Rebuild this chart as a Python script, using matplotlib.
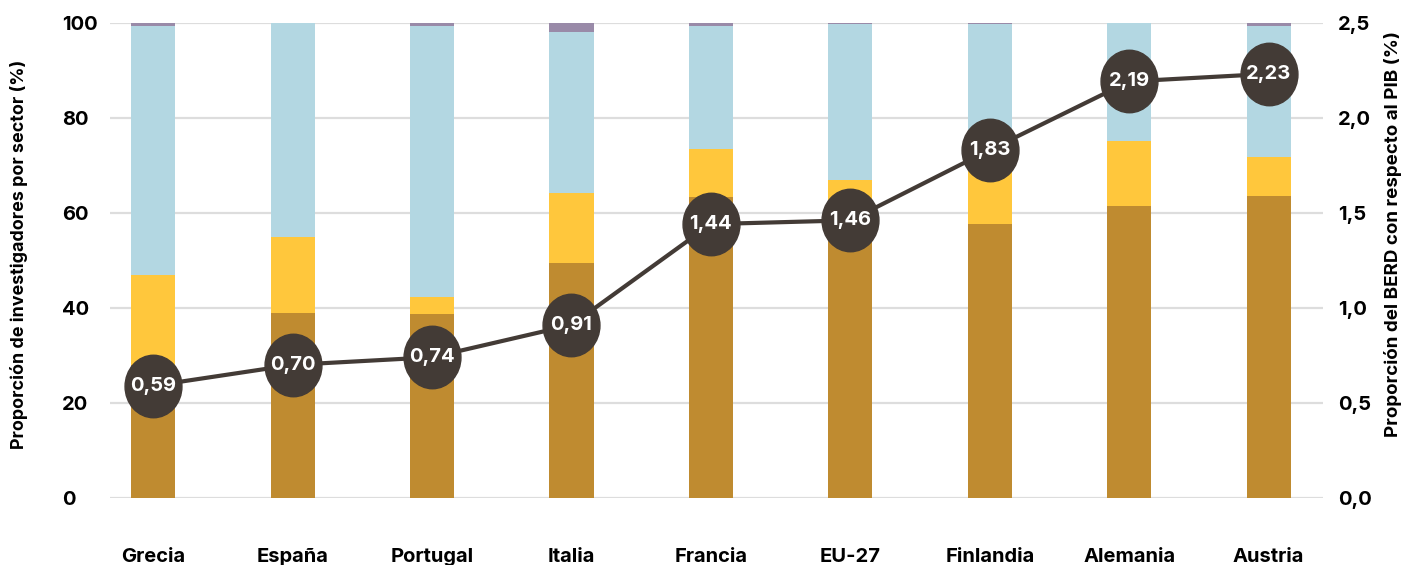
import numpy as np
import matplotlib
matplotlib.use("Agg")
from matplotlib import pyplot as plt
from matplotlib.path import Path
from matplotlib.transforms import Affine2D
from matplotlib.ticker import FuncFormatter

paises = ['Grecia', 'España', 'Portugal', 'Italia', 'Francia', 'EU-27', 'Finlandia', 'Alemania', 'Austria']

# proporción de investigadores por sector (%)
empresas = [28.0, 38.9, 38.7, 49.4, 63.3, 58.0, 57.6, 61.4, 63.5]
gobierno = [18.9, 16.0, 3.6, 14.7, 10.1, 8.9, 12.4, 13.7, 8.2]
universidad = [52.4, 45.1, 57.0, 33.9, 25.9, 32.7, 29.6, 24.9, 27.6]
privado_sfl = [0.7, 0.0, 0.7, 2.0, 0.7, 0.4, 0.4, 0.0, 0.7]

# BERD respecto al PIB (%)
berd = [0.59, 0.70, 0.74, 0.91, 1.44, 1.46, 1.83, 2.19, 2.23]

plt.rcParams['font.family'] = ['Inter', 'DejaVu Sans']
plt.rcParams['font.weight'] = 'bold'

c_emp = '#BF8B30'
c_gob = '#FFC73C'
c_uni = '#B3D7E2'
c_psfl = '#998AA8'
c_line = '#433B36'
c_grid = '#DDDDDD'

fig = plt.figure(figsize=(14.04, 5.65), dpi=100)
ax = fig.add_axes([110/1404, 1-498/565, 1213/1404, 475.5/565])

x = np.arange(len(paises))
w = 0.316
b1 = np.array(empresas)
b2 = b1 + np.array(gobierno)
b3 = b2 + np.array(universidad)
ax.bar(x, empresas, w, color=c_emp, zorder=2)
ax.bar(x, gobierno, w, bottom=b1, color=c_gob, zorder=2)
ax.bar(x, universidad, w, bottom=b2, color=c_uni, zorder=2)
ax.bar(x, privado_sfl, w, bottom=b3, color=c_psfl, zorder=2)

ax.set_xlim(-0.31, 8.39)
ax.set_ylim(0, 100)
ax.set_yticks([0, 20, 40, 60, 80, 100])
ax.yaxis.grid(True, color=c_grid, linewidth=1.6)
ax.set_axisbelow(True)
for s in ax.spines.values():
    s.set_visible(False)
ax.set_xticks(x)
ax.set_xticklabels(paises, fontsize=14.5, fontweight='bold')
ax.tick_params(axis='x', length=0, pad=36)
ax.tick_params(axis='y', length=0, pad=34.5, labelsize=14.5)
for t in ax.get_yticklabels():
    t.set_horizontalalignment('left')
ax.set_ylabel('Proporción de investigadores por sector (%)', fontsize=12.9, fontweight='bold')
ax.yaxis.set_label_coords(-0.068, 0.513)

ax2 = ax.twinx()
ax2.set_ylim(0, 2.5)
ax2.set_yticks([0, 0.5, 1.0, 1.5, 2.0, 2.5])
ax2.yaxis.set_major_formatter(FuncFormatter(lambda v, p: f'{v:.1f}'.replace('.', ',')))
for s in ax2.spines.values():
    s.set_visible(False)
ax2.tick_params(axis='y', length=0, pad=11, labelsize=14.5)
ax2.set_ylabel('Proporción del BERD con respecto al PIB (%)', fontsize=13.5, fontweight='bold')
ax2.yaxis.set_label_coords(1.0505, 0.555)

elipse = Path.unit_circle().transformed(Affine2D().scale(0.91, 1.0))
ax2.plot(x, berd, color=c_line, linewidth=3, zorder=3)
ax2.plot(x, berd, linestyle='none', marker=elipse, markersize=45,
         markerfacecolor=c_line, markeredgecolor=c_line, zorder=4)
for xi, v in zip(x, berd):
    ax2.text(xi, v, f'{v:.2f}'.replace('.', ','), ha='center', va='center',
             color='white', fontsize=14.5, fontweight='bold', zorder=5)

fig.savefig('out.png', dpi=100)
